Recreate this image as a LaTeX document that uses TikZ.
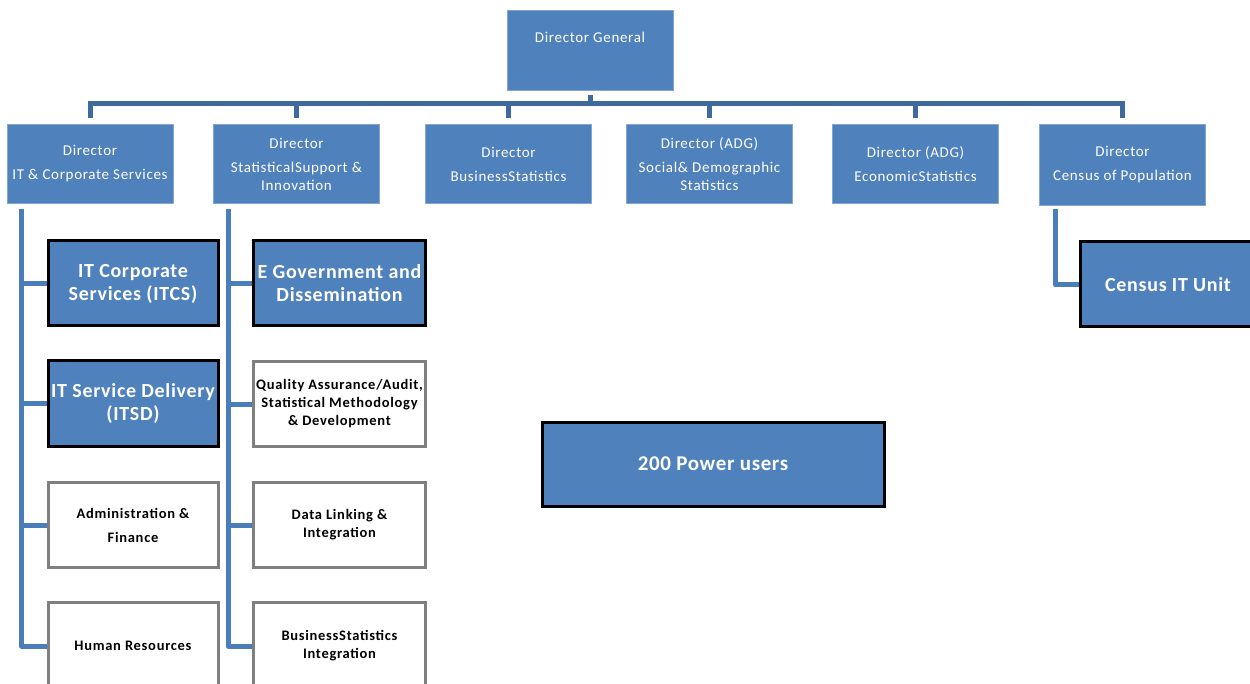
\documentclass[tikz,border=0pt]{standalone}
\usepackage{fontspec}
\setmainfont{Carlito}
\definecolor{boxblue}{HTML}{4F81BD}
\definecolor{busblue}{HTML}{3E6A9E}
\definecolor{spineblue}{HTML}{4A7EBB}
\definecolor{boxgray}{HTML}{7F7F7F}
\begin{document}
\begin{tikzpicture}[x=1pt,y=-1pt,
  dirbox/.style={draw=boxblue!70!white, line width=0.8pt, fill=boxblue, text=white, inner sep=0pt,
    minimum width=166pt, minimum height=79pt, align=center,
    font=\fontsize{15}{18}\selectfont\addfontfeature{LetterSpace=4.5}},
  unitbox/.style={draw=black, line width=3pt, fill=boxblue, text=white, inner sep=0pt,
    minimum width=170pt, minimum height=85pt, align=center,
    font=\bfseries\fontsize{20}{23}\selectfont\addfontfeature{LetterSpace=3.5}},
  subbox/.style={draw=boxgray, line width=3pt, fill=white, text=black, inner sep=0pt,
    minimum width=170pt, minimum height=85pt, align=center,
    font=\bfseries\fontsize{14.5}{18}\selectfont\addfontfeature{LetterSpace=5}},
  busline/.style={draw=busblue, line width=5pt},
  spine/.style={draw=spineblue, line width=5pt, line join=round}]
\useasboundingbox (0,0) rectangle (1250,684);
\fill[white] (0,0) rectangle (1250,684);
\clip (0,0) rectangle (1250,684);

% top
\node[dirbox, anchor=north, minimum height=0pt, text height=32pt, text depth=48pt] (dg) at (590,10) {Director General};

% directors
\node[dirbox] (d1) at (90,164) {Director\\[6pt]IT \& Corporate Services};
\node[dirbox] (d2) at (296.5,164) {Director\\[6pt]StatisticalSupport \&\\Innovation};
\node[dirbox] (d3) at (508.5,164) {Director\\[6pt]BusinessStatistics};
\node[dirbox] (d4) at (709.5,164) {Director (ADG)\\[6pt]Social\& Demographic\\Statistics};
\node[dirbox] (d5) at (915.5,164) {Director (ADG)\\[6pt]EconomicStatistics};
\node[dirbox, minimum height=81pt] (d6) at (1122.5,164.5) {Director\\[6pt]Census of Population};

% units under IT & Corporate Services
\node[unitbox] (itcs) at (133,283.5) {IT Corporate\\Services (ITCS)};
\node[unitbox] (itsd) at (133,403.5) {IT Service Delivery\\(ITSD)};
\node[subbox] (adm) at (133,525) {Administration \&\\[6pt]Finance};
\node[subbox, minimum height=88pt] (hr) at (133,646) {Human Resources};

% units under Statistical Support
\node[unitbox, minimum width=172pt] (egov) at (339.5,283.5) {E Government and\\Dissemination};
\node[subbox, minimum width=172pt] (qa) at (339.5,404) {Quality Assurance/Audit,\\Statistical Methodology\\\& Development};
\node[subbox, minimum width=172pt] (dl) at (339.5,525) {Data Linking \&\\Integration};
\node[subbox, minimum width=172pt, minimum height=88pt] (bsi) at (339.5,646) {BusinessStatistics\\Integration};

% census
\node[unitbox, minimum width=176pt] (cit) at (1168,284.5) {Census IT Unit};

% power users
\node[unitbox, minimum width=342pt, minimum height=84pt, font=\bfseries\fontsize{21}{23}\selectfont\addfontfeature{LetterSpace=3}] (pu) at (713,464) {200 Power users};

% bus
\coordinate (bus) at (590,104);
\draw[busline, shorten <=4pt] (dg.south) -- (bus);
\foreach \d in {d1,d2,d3,d4,d5,d6}
  \draw[busline, shorten >=6pt] (bus) -| (\d.north);

% spines
\foreach \u in {itcs,itsd,adm,hr}
  \draw[spine] ([xshift=15pt,yshift=-5pt]d1.south west) |- (\u.west);
\foreach \u in {egov,qa,dl,bsi}
  \draw[spine] ([xshift=15pt,yshift=-5pt]d2.south west) |- (\u.west);
\draw[spine] ([xshift=16pt,yshift=-4pt]d6.south west) |- (cit.west);
\end{tikzpicture}
\end{document}
